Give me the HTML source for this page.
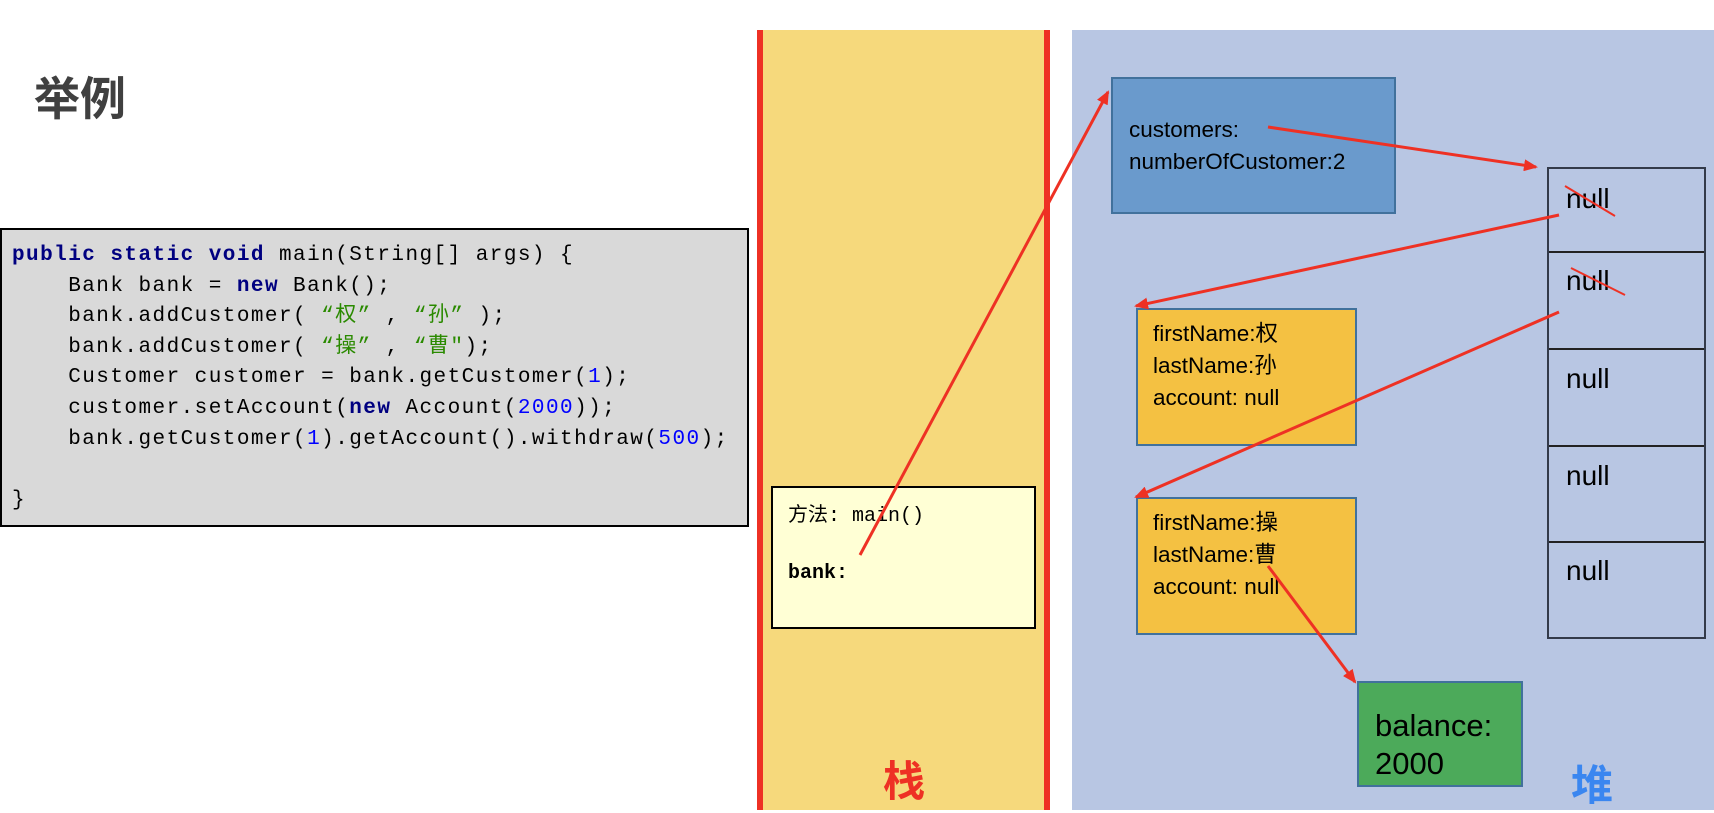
<!DOCTYPE html>
<html><head><meta charset="utf-8"><style>
body{margin:0;width:1714px;height:810px;background:#fff;position:relative;overflow:hidden;font-family:"Liberation Sans","Noto Sans CJK SC",sans-serif}
.a{position:absolute;box-sizing:border-box}
.code{font-family:"Liberation Mono","Noto Sans CJK SC",monospace;font-size:21px;letter-spacing:1.45px;line-height:30.6px;white-space:pre;color:#000}
.k{color:#000080;font-weight:bold}.n{color:#0000ff}.s{color:#2a8a00}
.t{font-size:22.5px;line-height:32px;color:#000}
.null{position:absolute;left:17px;font-size:28px;color:#000}
</style></head><body>
<div class="a" style="left:34px;top:63px;font-size:46px;font-weight:bold;color:#404040">举例</div>
<div class="a code" style="left:0;top:228px;width:749px;height:299px;background:#d9d9d9;border:2px solid #000;padding:11px 0 0 10px;overflow:hidden"><span class="k">public static void</span> main(String[] args) {
    Bank bank = <span class="k">new</span> Bank();
    bank.addCustomer( <span class="s">“权”</span> , <span class="s">“孙”</span> );
    bank.addCustomer( <span class="s">“操”</span> , <span class="s">“曹"</span>);
    Customer customer = bank.getCustomer(<span class="n">1</span>);
    customer.setAccount(<span class="k">new</span> Account(<span class="n">2000</span>));
    bank.getCustomer(<span class="n">1</span>).getAccount().withdraw(<span class="n">500</span>);

}</div>
<div class="a" style="left:758px;top:30px;width:292px;height:780px;background:#f6d97c"></div>
<div class="a" style="left:757px;top:30px;width:6px;height:780px;background:#ee3124"></div>
<div class="a" style="left:1044px;top:30px;width:6px;height:780px;background:#ee3124"></div>
<div class="a" style="left:1072px;top:30px;width:642px;height:780px;background:#b8c6e3"></div>
<div class="a" style="left:771px;top:486px;width:265px;height:143px;background:#ffffd5;border:2px solid #000;padding:10px 0 0 15px;font-family:'Liberation Mono','Noto Sans CJK SC',monospace;font-size:20px">方法: main()<div style="margin-top:34px;font-weight:bold">bank:</div></div>
<div class="a" style="left:883px;top:748px;font-size:42px;font-weight:bold;color:#ee3124">栈</div>
<div class="a" style="left:1571px;top:752px;font-size:42px;font-weight:bold;color:#3a86f0">堆</div>
<div class="a t" style="left:1111px;top:77px;width:285px;height:137px;background:#6a9acc;border:2px solid #41719c;padding:35px 0 0 16px">customers:<br>numberOfCustomer:2</div>
<div class="a" style="left:1547px;top:167px;width:159px;height:472px;border:2px solid #333a4a">
<div class="a" style="left:0;top:82px;width:155px;border-top:2px solid #222"></div>
<div class="a" style="left:0;top:179px;width:155px;border-top:2px solid #222"></div>
<div class="a" style="left:0;top:276px;width:155px;border-top:2px solid #222"></div>
<div class="a" style="left:0;top:372px;width:155px;border-top:2px solid #222"></div>
<div class="null" style="top:14px">null</div><div class="null" style="top:96px">null</div><div class="null" style="top:194px">null</div><div class="null" style="top:291px">null</div><div class="null" style="top:386px">null</div>
</div>
<div class="a t" style="left:1136px;top:308px;width:221px;height:138px;background:#f4c142;border:2px solid #41719c;padding:8px 0 0 15px">firstName:权<br>lastName:孙<br>account: null</div>
<div class="a t" style="left:1136px;top:497px;width:221px;height:138px;background:#f4c142;border:2px solid #41719c;padding:8px 0 0 15px">firstName:操<br>lastName:曹<br>account: null</div>
<div class="a" style="left:1357px;top:681px;width:166px;height:106px;background:#4caa5a;border:2px solid #41719c;padding:24px 0 0 16px;font-size:31px;line-height:38px;color:#000">balance:<br>2000</div>
<svg class="a" style="left:0;top:0" width="1714" height="810">
<defs><marker id="m" markerWidth="14" markerHeight="12" refX="12" refY="6" orient="auto" markerUnits="userSpaceOnUse"><path d="M0,0 L14,6 L0,12 z" fill="#ee3124"/></marker></defs>
<g stroke="#ee3124" stroke-width="3" fill="none">
<line x1="860" y1="555" x2="1108" y2="92" marker-end="url(#m)"/>
<line x1="1268" y1="127" x2="1536" y2="167" marker-end="url(#m)"/>
<line x1="1559" y1="215" x2="1136" y2="306" marker-end="url(#m)"/>
<line x1="1559" y1="312" x2="1136" y2="497" marker-end="url(#m)"/>
<line x1="1268" y1="566" x2="1355" y2="682" marker-end="url(#m)"/>
<line x1="1565" y1="186" x2="1615" y2="216" stroke-width="2"/>
<line x1="1571" y1="268" x2="1625" y2="295" stroke-width="2"/>
</g></svg>
</body></html>
